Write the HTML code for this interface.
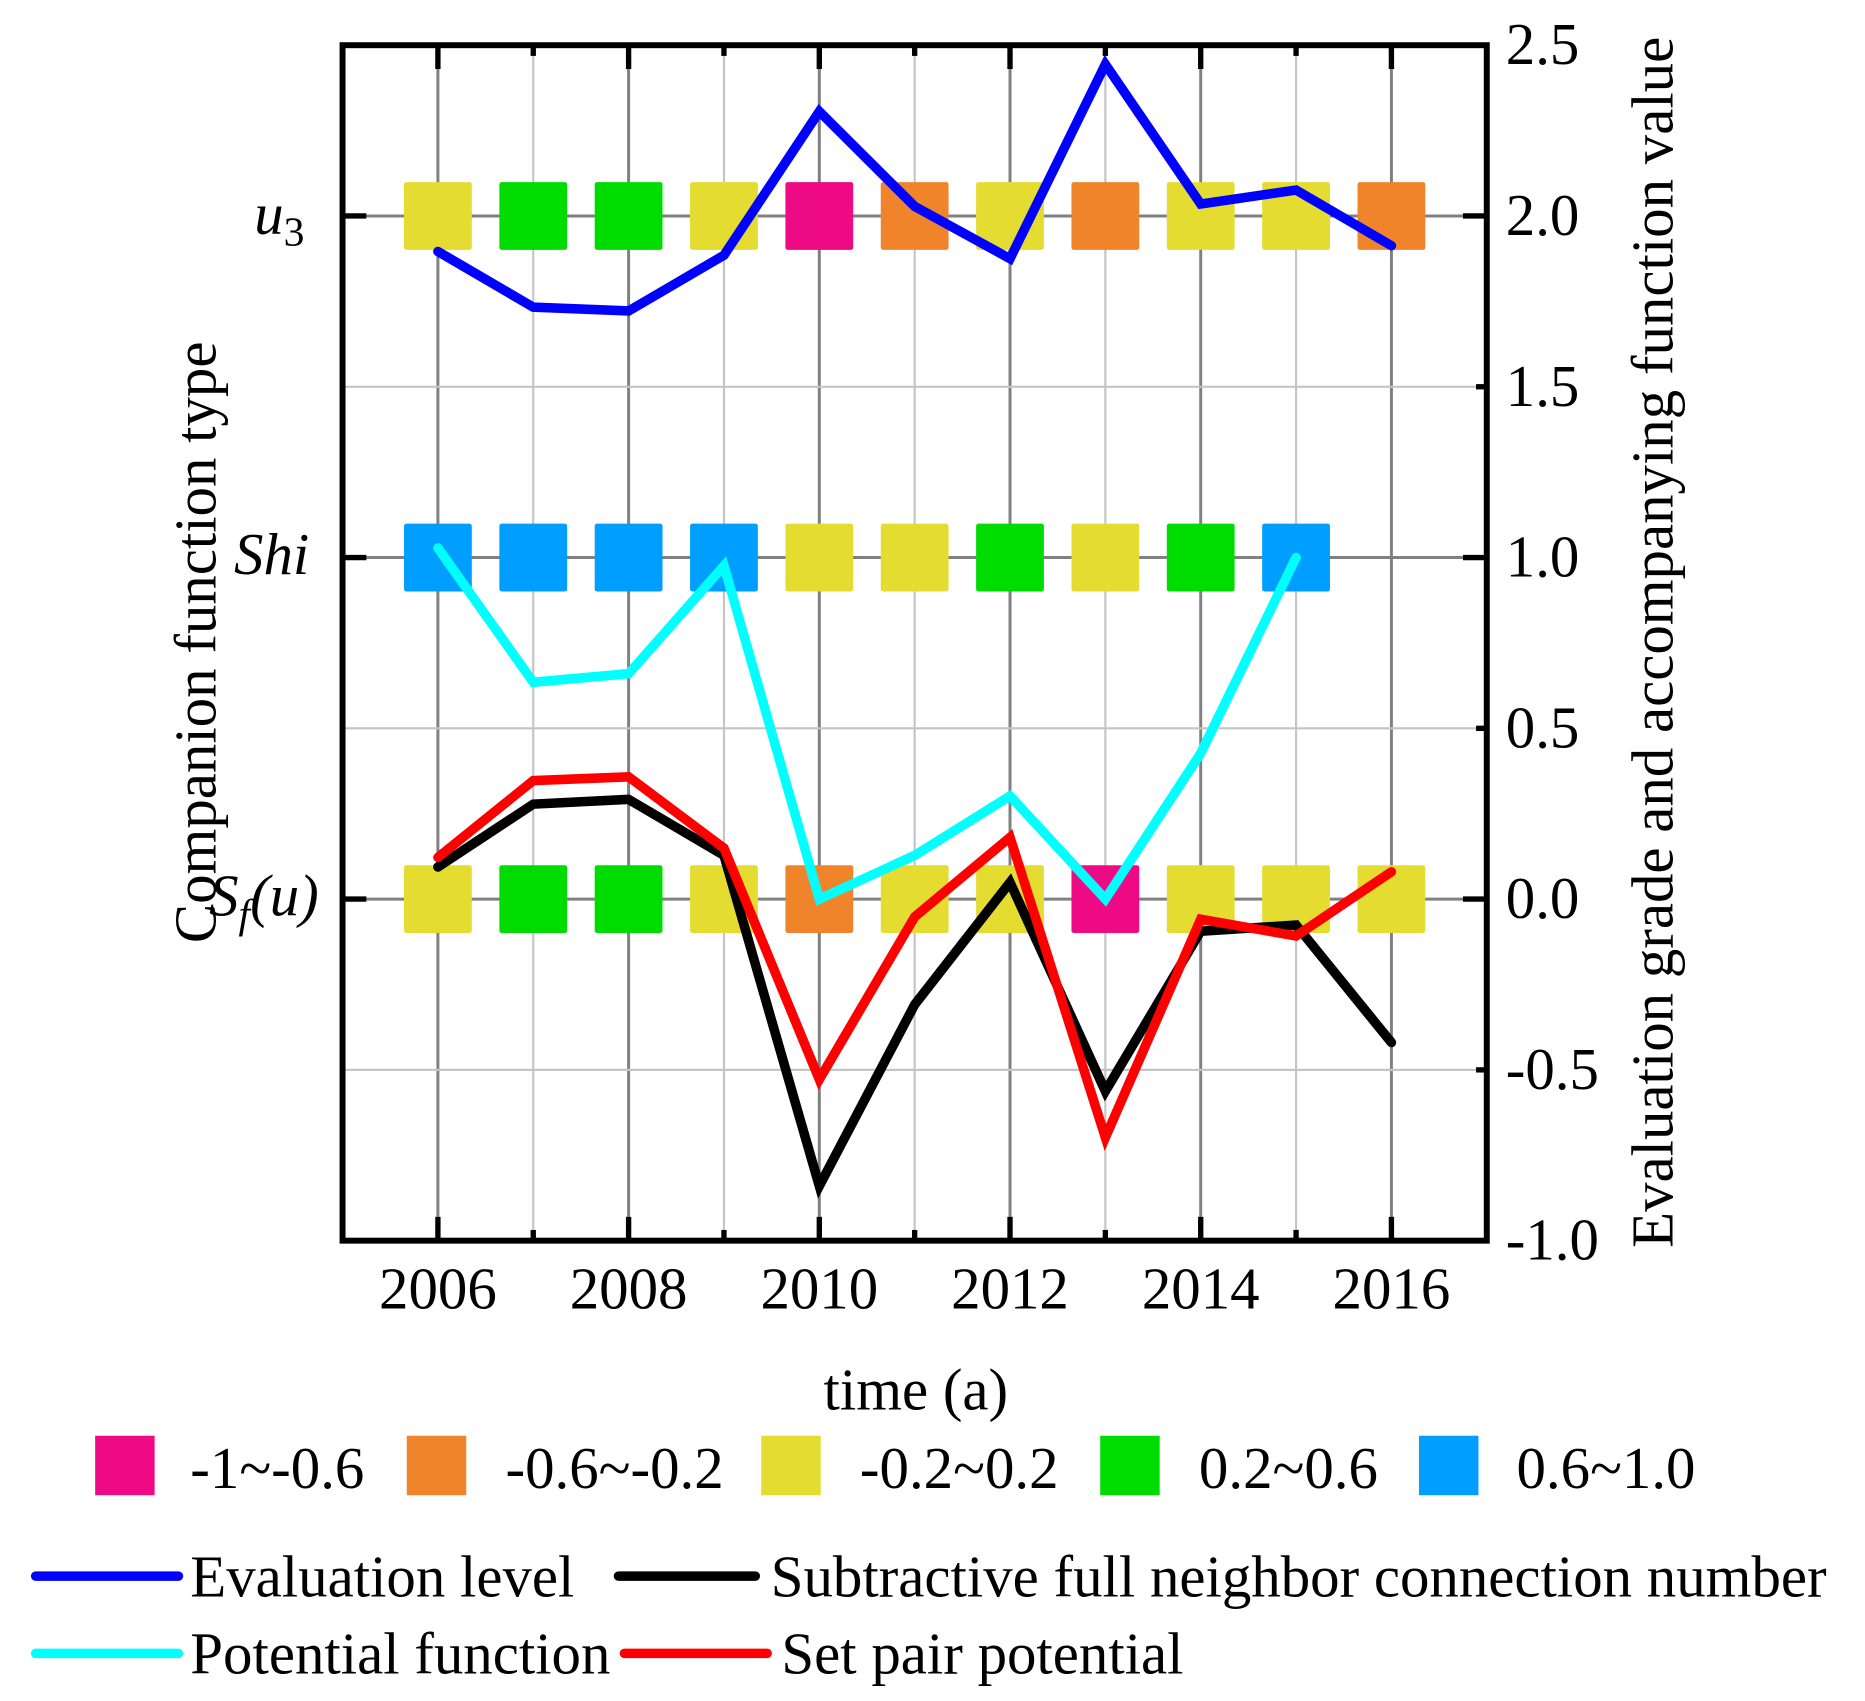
<!DOCTYPE html>
<html><head><meta charset="utf-8"><style>
html,body{margin:0;padding:0;background:#fff}
svg{display:block}
text{font-family:"Liberation Serif",serif;fill:#000}
</style></head><body>
<svg id="chart" width="1865" height="1701" viewBox="0 0 1568 1430" preserveAspectRatio="none" xmlns="http://www.w3.org/2000/svg">
<g id="grid"></g>
<g id="squares"></g>
<g id="lines"></g>
<g id="axes"></g>
<g id="legend"></g>
</svg>
<script>
const years=[2006,2007,2008,2009,2010,2011,2012,2013,2014,2015,2016];
const rowU3=['Y','G','G','Y','P','O','Y','O','Y','Y','O'];
const rowShi=['B','B','B','B','Y','Y','G','Y','G','B'];
const rowSf=['Y','G','G','Y','O','Y','Y','P','Y','Y','Y'];
const evalLevel=[1.896,1.733,1.722,1.885,2.306,2.028,1.875,2.444,2.035,2.076,1.913];
const potentialFn=[1.028,0.635,0.66,0.976,0,0.128,0.302,0,0.427,1.0];
const subtractive=[0.094,0.278,0.292,0.128,-0.84,-0.309,0.049,-0.5625,-0.094,-0.076,-0.42];
const setPair=[0.122,0.347,0.358,0.149,-0.528,-0.052,0.181,-0.698,-0.059,-0.108,0.08];
const rightTicks=[2.5,2.0,1.5,1.0,0.5,0.0,-0.5,-1.0];
const xTicks=[2006,2008,2010,2012,2014,2016];

const NS='http://www.w3.org/2000/svg';
const L=288,R=1250,T=38,B=1043;
const FS=49.5;
const X=y=>L+(y-2005)/(12)*(R-L);
const Y=v=>T+(2.5-v)/3.5*(B-T);
const colors={P:'#EE0A85',O:'#EF842A',Y:'#E5DC32',G:'#00DC00',B:'#009EFF'};
function mk(tag,attrs,parent,txt){const e=document.createElementNS(NS,tag);for(const k in attrs)e.setAttribute(k,attrs[k]);if(txt!==undefined)e.textContent=txt;parent.appendChild(e);return e;}
const grid=document.getElementById('grid'),sq=document.getElementById('squares'),ln=document.getElementById('lines'),ax=document.getElementById('axes'),lg=document.getElementById('legend');
for(let yr=2006;yr<=2016;yr++){const l=mk('line',{x1:X(yr),x2:X(yr),y1:T,y2:B,stroke:yr%2==0?'#808080':'#c4c4c4','stroke-width':yr%2==0?2.5:1.8},grid);

}
[-0.5,0,0.5,1,1.5,2].forEach(v=>{const maj=Number.isInteger(v);const l=mk('line',{x1:L,x2:R,y1:Y(v),y2:Y(v),stroke:maj?'#808080':'#c4c4c4','stroke-width':maj?2.5:1.8},grid);

});
[[rowU3,2],[rowShi,1],[rowSf,0]].forEach(([row,v])=>{row.forEach((c,i)=>{const s=57;const r=mk('rect',{x:X(years[i])-s/2,y:Y(v)-s/2,width:s,height:s,rx:2,fill:colors[c]},sq);

});});
function series(vals,color,name){const pts=vals.map((v,i)=>X(years[i])+','+Y(v)).join(' ');const p=mk('polyline',{points:pts,fill:'none',stroke:color,'stroke-width':8,'stroke-linejoin':'miter','stroke-linecap':'round'},ln);

}
series(potentialFn,'#00FFFF','potential-function-line');
series(subtractive,'#000000','subtractive-line');
series(setPair,'#FF0000','set-pair-potential-line');
series(evalLevel,'#0000FF','evaluation-level-line');
const fr=mk('rect',{x:L,y:T,width:R-L,height:B-T,fill:'none',stroke:'#000','stroke-width':5},ax);


for(let yr=2006;yr<=2016;yr++){const len=yr%2==0?20:9;mk('line',{x1:X(yr),x2:X(yr),y1:T,y2:T+len,stroke:'#000','stroke-width':4.5},ax);mk('line',{x1:X(yr),x2:X(yr),y1:B,y2:B-len,stroke:'#000','stroke-width':4.5},ax);}
[0,1,2].forEach(v=>{mk('line',{x1:L,x2:L+20,y1:Y(v),y2:Y(v),stroke:'#000','stroke-width':4.5},ax);mk('line',{x1:R,x2:R-20,y1:Y(v),y2:Y(v),stroke:'#000','stroke-width':4.5},ax);});
[-0.5,0.5,1.5].forEach(v=>{mk('line',{x1:R,x2:R-9,y1:Y(v),y2:Y(v),stroke:'#000','stroke-width':4.5},ax);});
xTicks.forEach(yr=>{const t=mk('text',{x:X(yr),y:1100,'text-anchor':'middle','font-size':FS},ax,String(yr));

});
rightTicks.forEach(v=>{const t=mk('text',{x:1266,y:Y(v)+16,'font-size':FS},ax,v.toFixed(1));

});
const u3=mk('text',{x:256,y:Y(2)+15,'text-anchor':'end','font-size':FS,'font-style':'italic'},ax);


u3.innerHTML='u<tspan font-style="normal" font-size="35" dy="10">3</tspan>';
const shi=mk('text',{x:260,y:Y(1)+14,'text-anchor':'end','font-size':FS,'font-style':'italic'},ax,'Shi');


const sf=mk('text',{x:268,y:Y(0)+14,'text-anchor':'end','font-size':FS,'font-style':'italic'},ax);


sf.innerHTML='S<tspan font-size="35" dy="10">f</tspan><tspan dy="-10">(u)</tspan>';
const yl=mk('text',{x:0,y:0,'text-anchor':'middle','font-size':FS,transform:'translate(181,540) rotate(-90)'},ax,'Companion function type');


const yr2=mk('text',{x:0,y:0,'text-anchor':'middle','font-size':FS,transform:'translate(1406,540) rotate(-90)'},ax,'Evaluation grade and accompanying function value');


const xl=mk('text',{x:770,y:1185,'text-anchor':'middle','font-size':FS},ax,'time (a)');


const legSq=[['P',80,160,'-1~-0.6'],['O',342,425,'-0.6~-0.2'],['Y',640,723,'-0.2~0.2'],['G',925,1008,'0.2~0.6'],['B',1193,1275,'0.6~1.0']];
legSq.forEach(([c,x,tx,lab])=>{const r=mk('rect',{x:x,y:1207,width:50,height:50,fill:colors[c]},lg);


const t=mk('text',{x:tx,y:1251,'font-size':FS},lg,lab);

});
const legLn=[['#0000FF',30,150,1325,160,1342,'Evaluation level'],['#000000',520,635,1325,648,1342,'Subtractive full neighbor connection number'],['#00FFFF',30,150,1390,160,1407,'Potential function'],['#FF0000',525,645,1390,657,1407,'Set pair potential']];
legLn.forEach(([c,x1,x2,y,tx,ty,lab])=>{const l=mk('line',{x1:x1,x2:x2,y1:y,y2:y,stroke:c,'stroke-width':8,'stroke-linecap':'round'},lg);


const t=mk('text',{x:tx,y:ty,'font-size':FS},lg,lab);

});
</script>
</body></html>
